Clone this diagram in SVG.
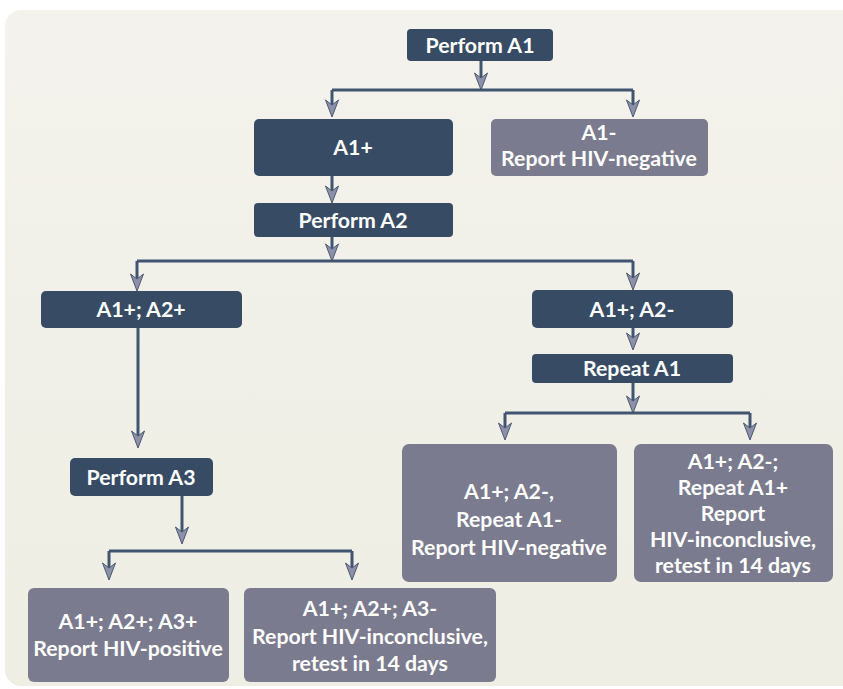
<svg xmlns="http://www.w3.org/2000/svg" width="843" height="689" viewBox="0 0 843 689">
<defs>
<linearGradient id="bg" x1="0" y1="0" x2="0" y2="1">
<stop offset="0" stop-color="#f4f2ec"/>
<stop offset="1" stop-color="#eeeee4"/>
</linearGradient>
<marker id="arr" markerUnits="userSpaceOnUse" markerWidth="20" markerHeight="20" refX="0" refY="0" orient="auto" overflow="visible">
<path d="M6,0 L-11,-6.5 L-6,0 L-11,6.5 Z" fill="#8c90a8" stroke="#4b5a72" stroke-width="1" stroke-linejoin="miter"/>
</marker>
</defs>
<style>
.dark{fill:#374c64}
.gray{fill:#7a7b8e}
.t{font-family:Lato,"Liberation Sans",sans-serif;font-weight:700;font-size:21.3px;fill:#ffffff;text-anchor:middle}
.c{fill:none;stroke:#415470;stroke-width:3}
.a{marker-end:url(#arr)}
</style>
<rect x="0" y="0" width="843" height="689" fill="#ffffff"/>
<rect x="5" y="10" width="860" height="676" rx="16" fill="url(#bg)"/>

<g id="connectors">
<path class="c a" d="M481,61 V84"/>
<path class="c" d="M332,90 H633"/>
<path class="c a" d="M332,90 V111"/>
<path class="c a" d="M633,90 V111"/>
<path class="c a" d="M332,176 V197"/>
<path class="c a" d="M332,237 V255"/>
<path class="c" d="M137,261 H633"/>
<path class="c a" d="M137,261 V285"/>
<path class="c a" d="M633,261 V284"/>
<path class="c a" d="M138,328 V442"/>
<path class="c a" d="M182,496 V538"/>
<path class="c" d="M109,551 H352"/>
<path class="c a" d="M109,551 V574"/>
<path class="c a" d="M352,551 V574"/>
<path class="c a" d="M633,328 V344"/>
<path class="c a" d="M633,383 V407"/>
<path class="c" d="M505,413 H750"/>
<path class="c a" d="M505,413 V434"/>
<path class="c a" d="M750,413 V434"/>
</g>

<g id="performA1"><rect class="dark" x="407" y="29" width="146" height="32" rx="4"/><text class="t" x="480" y="53">Perform A1</text></g>
<g id="a1pos"><rect class="dark" x="254" y="119" width="199" height="57" rx="5"/><text class="t" x="353" y="155">A1+</text></g>
<g id="a1neg"><rect class="gray" x="491" y="119" width="217" height="57" rx="5"/><text class="t" x="599" y="140">A1-</text><text class="t" x="599" y="166">Report HIV-negative</text></g>
<g id="performA2"><rect class="dark" x="254" y="203" width="199" height="34" rx="4"/><text class="t" x="353" y="228">Perform A2</text></g>
<g id="a1pos_a2pos"><rect class="dark" x="41" y="291" width="201" height="37" rx="5"/><text class="t" x="141" y="317">A1+; A2+</text></g>
<g id="a1pos_a2neg"><rect class="dark" x="532" y="290" width="201" height="38" rx="5"/><text class="t" x="632" y="317">A1+; A2-</text></g>
<g id="repeatA1"><rect class="dark" x="532" y="354" width="201" height="29" rx="4"/><text class="t" x="632" y="376">Repeat A1</text></g>
<g id="performA3"><rect class="dark" x="70" y="458" width="143" height="38" rx="5"/><text class="t" x="141" y="485">Perform A3</text></g>
<g id="repeatNeg"><rect class="gray" x="402" y="444" width="215" height="138" rx="7"/><text class="t" x="509" y="499">A1+; A2-,</text><text class="t" x="509" y="527">Repeat A1-</text><text class="t" x="509" y="555">Report HIV-negative</text></g>
<g id="repeatPos"><rect class="gray" x="634" y="444" width="199" height="138" rx="7"/><text class="t" x="733" y="469">A1+; A2-;</text><text class="t" x="733" y="495">Repeat A1+</text><text class="t" x="733" y="521">Report</text><text class="t" x="733" y="547">HIV-inconclusive,</text><text class="t" x="733" y="573">retest in 14 days</text></g>
<g id="a3pos"><rect class="gray" x="28" y="588" width="201" height="94" rx="6"/><text class="t" x="128" y="629">A1+; A2+; A3+</text><text class="t" x="128" y="656">Report HIV-positive</text></g>
<g id="a3neg"><rect class="gray" x="244" y="588" width="252" height="94" rx="6"/><text class="t" x="370" y="616">A1+; A2+; A3-</text><text class="t" x="370" y="644">Report HIV-inconclusive,</text><text class="t" x="370" y="671">retest in 14 days</text></g>
</svg>
